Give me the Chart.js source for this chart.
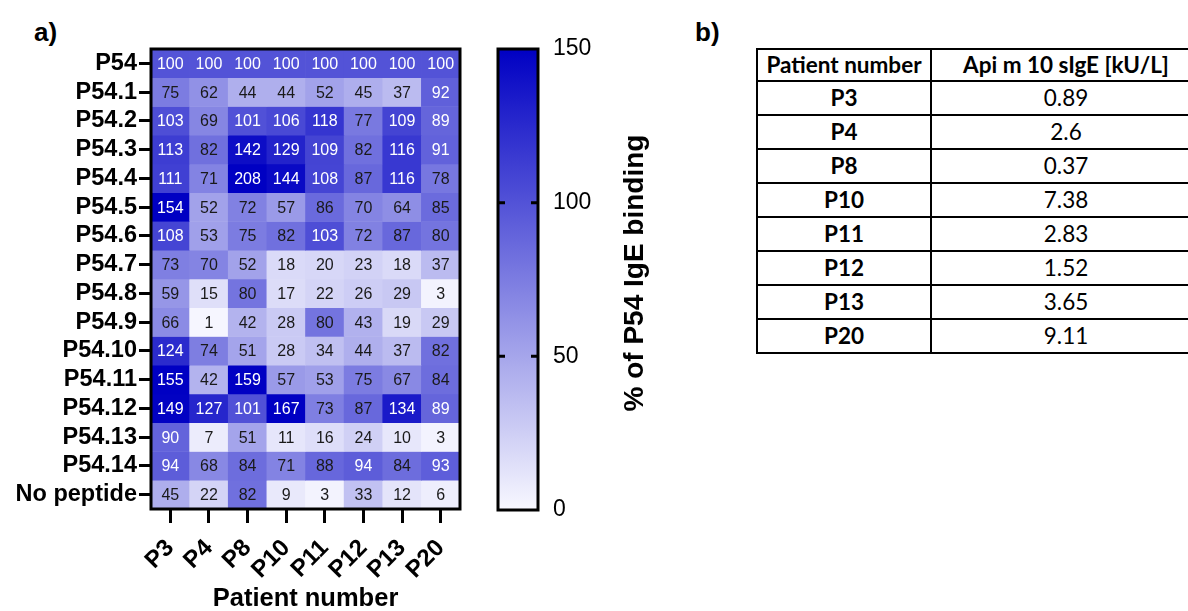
<!DOCTYPE html>
<html>
<head>
<meta charset="utf-8">
<script src="https://cdn.jsdelivr.net/npm/chart.js@4.4.0/dist/chart.umd.min.js"></script>
<style>
  body { margin: 0; background: #fff; width: 1188px; height: 611px; overflow: hidden; position: relative; font-family: "Liberation Sans", Arial, sans-serif; }
  .panel { position: absolute; font-weight: bold; font-size: 26px; line-height: 26px; }
  #heatBox { position: absolute; left: 0; top: 0; width: 480px; height: 611px; }
  #barBox { position: absolute; left: 470px; top: 0; width: 220px; height: 611px; }
  #sigeTable { position: absolute; left: 756px; top: 48px; width: 444px; border-collapse: collapse; table-layout: fixed; font-family: Lato, "Open Sans", sans-serif; font-size: 22.5px; color: #000; }
  #sigeTable td { border: 2px solid #000; text-align: center; padding: 0; height: 32px; line-height: 30px; }
  #sigeTable tr:first-child td { font-weight: bold; height: 30px; }
  #sigeTable td.pat { font-weight: bold; }
</style>
</head>
<body>
<div class="panel" style="left:34px; top:19px;">a)</div>
<div class="panel" style="left:695px; top:19px;">b)</div>
<div id="heatBox"><canvas id="heatChart"></canvas></div>
<div id="barBox"><canvas id="barChart"></canvas></div>
<table id="sigeTable"></table>
<script>
// pazienti (asse x) e peptidi (asse y)
const patients = ['P3', 'P4', 'P8', 'P10', 'P11', 'P12', 'P13', 'P20'];
const peptides = ['P54', 'P54.1', 'P54.2', 'P54.3', 'P54.4', 'P54.5', 'P54.6', 'P54.7',
    'P54.8', 'P54.9', 'P54.10', 'P54.11', 'P54.12', 'P54.13', 'P54.14', 'No peptide'];
// % of P54 IgE binding, una riga per peptide
const binding = [
    [100, 100, 100, 100, 100, 100, 100, 100],
    [75, 62, 44, 44, 52, 45, 37, 92],
    [103, 69, 101, 106, 118, 77, 109, 89],
    [113, 82, 142, 129, 109, 82, 116, 91],
    [111, 71, 208, 144, 108, 87, 116, 78],
    [154, 52, 72, 57, 86, 70, 64, 85],
    [108, 53, 75, 82, 103, 72, 87, 80],
    [73, 70, 52, 18, 20, 23, 18, 37],
    [59, 15, 80, 17, 22, 26, 29, 3],
    [66, 1, 42, 28, 80, 43, 19, 29],
    [124, 74, 51, 28, 34, 44, 37, 82],
    [155, 42, 159, 57, 53, 75, 67, 84],
    [149, 127, 101, 167, 73, 87, 134, 89],
    [90, 7, 51, 11, 16, 24, 10, 3],
    [94, 68, 84, 71, 88, 94, 84, 93],
    [45, 22, 82, 9, 3, 33, 12, 6]
];
// scala colori
const scaleTicks = [0, 50, 100, 150];
const scaleMax = 150;
// tabella b)
const tablePatients = ['P3', 'P4', 'P8', 'P10', 'P11', 'P12', 'P13', 'P20'];
const sIgE = ['0.89', '2.6', '0.37', '7.38', '2.83', '1.52', '3.65', '9.11'];

const fontFam = '"Liberation Sans", Arial, sans-serif';

// bianco -> blu
function heatColor(v) {
    let t = Math.max(0, Math.min(1, v / scaleMax));
    let r = Math.round(248 * (1 - t));
    let b = Math.round(255 - 60 * t);
    return `rgb(${r},${r},${b})`;
}

// testo dentro le celle
const cellLabels = {
    id: 'cellLabels',
    afterDatasetsDraw(chart) {
        const { ctx, scales: { x, y } } = chart;
        ctx.save();
        ctx.font = '16px ' + fontFam;
        ctx.textAlign = 'center';
        ctx.textBaseline = 'middle';
        binding.forEach((row, i) => {
            row.forEach((v, j) => {
                ctx.fillStyle = v >= 89 ? '#ffffff' : '#1a1a1a';
                ctx.fillText(String(v), x.getPixelForValue(j), y.getPixelForValue(i) + 1);
            });
        });
        ctx.restore();
    }
};

const frame = {
    id: 'frame',
    afterDraw(chart) {
        const { ctx, chartArea: a } = chart;
        ctx.save();
        ctx.strokeStyle = '#000';
        ctx.lineWidth = 3;
        ctx.strokeRect(a.left, a.top, a.right - a.left, a.bottom - a.top);
        ctx.restore();
    }
};

new Chart(document.getElementById('heatChart'), {
    type: 'bar',
    data: {
        labels: patients,
        datasets: binding.map((row, i) => ({
            data: row.map(() => [i - 0.5, i + 0.5]),
            backgroundColor: row.map(v => heatColor(v)),
            borderWidth: 0,
            barPercentage: 1,
            categoryPercentage: 1,
            grouped: false
        }))
    },
    options: {
        responsive: true,
        maintainAspectRatio: false,
        animation: false,
        devicePixelRatio: 1,
        layout: { padding: { top: 49, right: 20, left: 0, bottom: 0 } },
        plugins: { legend: { display: false }, tooltip: { enabled: false } },
        scales: {
            x: {
                grid: { offset: false, drawOnChartArea: false, drawTicks: true, tickLength: 14, tickWidth: 3, tickColor: '#000', color: '#000' },
                border: { display: false },
                ticks: { color: '#000', font: { family: fontFam, size: 24, weight: 'bold' }, maxRotation: 45, minRotation: 45, padding: 11, autoSkip: false },
                title: { display: true, text: 'Patient number', color: '#000', font: { family: fontFam, size: 25.5, weight: 'bold' }, padding: { top: 0, bottom: -3 } },
                afterFit: (s) => { s.height = 102; }
            },
            y: {
                min: -0.5,
                max: peptides.length - 0.5,
                reverse: true,
                afterBuildTicks: (s) => { s.ticks = peptides.map((p, i) => ({ value: i })); },
                grid: { drawOnChartArea: false, drawTicks: true, tickLength: 12, tickWidth: 3, tickColor: '#000', color: '#000' },
                border: { display: false },
                ticks: { color: '#000', font: { family: fontFam, size: 23.5, weight: 'bold' }, padding: 2, autoSkip: false, callback: (v) => peptides[v] },
                afterFit: (s) => { s.width = 151; }
            }
        }
    },
    plugins: [cellLabels, frame]
});

// barra dei colori
const barTicks = {
    id: 'barTicks',
    afterDraw(chart) {
        const { ctx, chartArea: a, scales: { y } } = chart;
        ctx.save();
        ctx.strokeStyle = '#000';
        ctx.lineWidth = 3;
        scaleTicks.slice(1, -1).forEach(v => {
            let py = y.getPixelForValue(v);
            ctx.beginPath();
            ctx.moveTo(a.left, py); ctx.lineTo(a.left + 7, py);
            ctx.moveTo(a.right - 7, py); ctx.lineTo(a.right, py);
            ctx.stroke();
        });
        ctx.fillStyle = '#000';
        ctx.font = 'bold 28px ' + fontFam;
        ctx.textAlign = 'center';
        ctx.textBaseline = 'middle';
        ctx.translate(165, 273);
        ctx.rotate(-Math.PI / 2);
        ctx.fillText('% of P54 IgE binding', 0, 0);
        ctx.restore();
    }
};

new Chart(document.getElementById('barChart'), {
    type: 'bar',
    data: {
        labels: [''],
        datasets: [{
            data: [[0, scaleMax]],
            borderWidth: 0,
            barPercentage: 1,
            categoryPercentage: 1,
            backgroundColor(context) {
                const { ctx, chartArea, scales } = context.chart;
                if (!chartArea) return null;
                const g = ctx.createLinearGradient(0, scales.y.getPixelForValue(0), 0, scales.y.getPixelForValue(scaleMax));
                for (let k = 0; k <= 10; k++) g.addColorStop(k / 10, heatColor(scaleMax * k / 10));
                return g;
            }
        }]
    },
    options: {
        responsive: true,
        maintainAspectRatio: false,
        animation: false,
        devicePixelRatio: 1,
        layout: { padding: { top: 49, right: 52, left: 28, bottom: 101 } },
        plugins: { legend: { display: false }, tooltip: { enabled: false } },
        scales: {
            x: { display: false },
            y: {
                position: 'right',
                min: 0,
                max: scaleMax,
                afterBuildTicks: (s) => { s.ticks = scaleTicks.map(v => ({ value: v })); },
                grid: { display: false, drawTicks: false },
                border: { display: false },
                ticks: { color: '#000', font: { family: fontFam, size: 23 }, padding: 15 },
                afterFit: (s) => { s.width = 100; }
            }
        }
    },
    plugins: [barTicks, frame]
});

// tabella b)
let table = document.getElementById('sigeTable');
let html = '<colgroup><col style="width:174px"><col style="width:270px"></colgroup>';
html += '<tr><td>Patient number</td><td>Api m 10 sIgE [kU/L]</td></tr>';
for (let i = 0; i < tablePatients.length; i++) {
    html += `<tr><td class="pat">${tablePatients[i]}</td><td>${sIgE[i]}</td></tr>`;
}
table.innerHTML = html;
</script>
</body>
</html>
